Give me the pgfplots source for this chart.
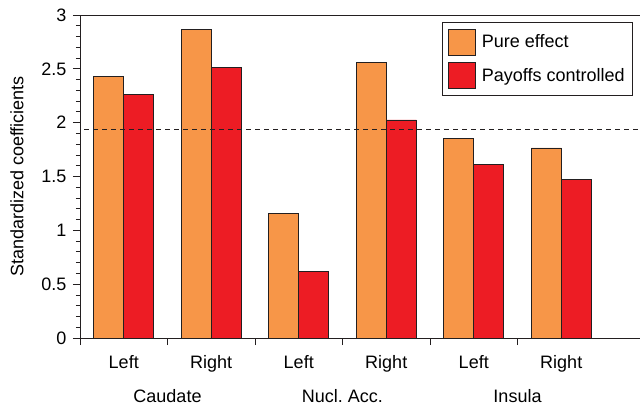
\documentclass[border=0pt]{standalone}
\usepackage{fontspec}
\setmainfont{Liberation Sans}
\usepackage{pgfplots}
\pgfplotsset{compat=1.18}
\newcommand\f{\fontsize{18bp}{21.6bp}\selectfont}
\definecolor{orng}{RGB}{247,150,72}
\definecolor{rd}{RGB}{237,28,36}
\definecolor{edge}{RGB}{35,31,32}
\begin{document}
\frenchspacing
\begin{tikzpicture}
\begin{axis}[name=ax, scale only axis, width=560bp, height=323bp,
  clip=false,
  ybar=0pt, bar width=30bp,
  xmin=-0.5, xmax=5.9, ymin=0, ymax=3,
  axis x line*=bottom, axis y line*=left,
  axis line style={line width=0.8bp, edge, -},
  tick align=outside,
  major tick length=7bp, minor tick length=4bp,
  tick style={line width=0.8bp, edge},
  xtick={0,...,5}, xticklabels={Left,Right,Left,Right,Left,Right},
  major x tick style={draw=none},
  ytick={0,0.5,...,3}, minor y tick num=4,
  yticklabel style={/pgf/number format/fixed, xshift=-3bp},
  /pgf/number format/assume math mode=true,
  tick label style={font=\f},
  x tick label style={yshift=-7bp},
  legend style={at={(0.9875,0.978)}, anchor=north east, draw=edge, line width=0.8bp,
    font=\f, row sep=7bp, inner xsep=6bp, inner ysep=6bp,
    /tikz/every odd column/.append style={column sep=4bp}},
  legend cell align=left,
  legend image code/.code={\draw[#1,line width=0.8bp] (0bp,-13bp) rectangle (27bp,13bp);},
]
\addplot[fill=orng, draw=edge, line width=0.8bp] coordinates {(0,2.427) (1,2.867) (2,1.155) (3,2.56) (4,1.857) (5,1.765)};
\addplot[fill=rd, draw=edge, line width=0.8bp] coordinates {(0,2.263) (1,2.514) (2,0.62) (3,2.025) (4,1.61) (5,1.474)};
\legend{Pure effect, Payoffs controlled}
\addplot[sharp plot, forget plot, edge, line width=0.8bp, dash pattern=on 5bp off 4bp] coordinates {(-0.45,1.94) (5.9,1.94)};
\foreach \x in {-0.5,0.5,1.5,2.5,3.5,4.5} {
  \edef\temp{\noexpand\draw[line width=0.8bp, edge] ([yshift=-7bp]axis cs:\x,0) -- (axis cs:\x,0);}\temp
}
\draw[line width=0.8bp, edge] (rel axis cs:0,1) -- (rel axis cs:1,1);
\node[font=\f] at (axis cs:0.5,0) [yshift=-58bp] {Caudate};
\node[font=\f] at (axis cs:2.5,0) [yshift=-58bp] {Nucl. Acc.};
\node[font=\f] at (axis cs:4.5,0) [yshift=-58bp] {Insula};
\end{axis}
\node[rotate=90, font=\f] at ([xshift=-63bp]ax.west) {Standardized coefficients};
\pgfresetboundingbox
\path ([shift={(-80bp,-67bp)}]ax.south west) rectangle ([shift={(0bp,15bp)}]ax.north east);
\end{tikzpicture}
\end{document}
